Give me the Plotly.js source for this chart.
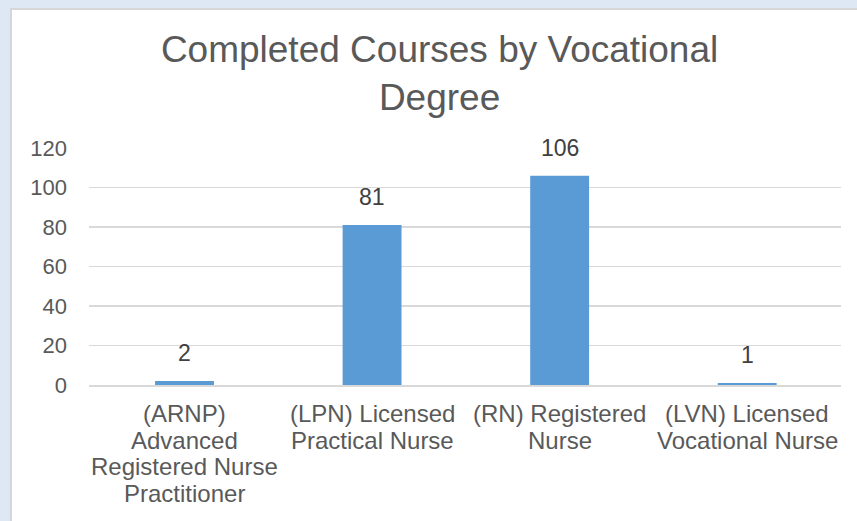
<!DOCTYPE html>
<html>
<head>
<meta charset="utf-8">
<script src="https://cdn.plot.ly/plotly-3.0.1.min.js"></script>
<style>
  html, body { margin: 0; padding: 0; width: 857px; height: 521px; overflow: hidden; background: #dee8f4; }
  #chart { position: absolute; left: 10px; top: 8px; width: 845px; height: 511px;
           border-left: 2px solid #d6d6d6; border-top: 2px solid #d6d6d6; background: #ffffff; }
</style>
</head>
<body>
<div id="chart"></div>
<script>
const categories = [
  "(ARNP)<br>Advanced<br>Registered Nurse<br>Practitioner",
  "(LPN) Licensed<br>Practical Nurse",
  "(RN) Registered<br>Nurse",
  "(LVN) Licensed<br>Vocational Nurse"
];
const completedCourses = [2, 81, 106, 1];
const yTickValues = [0, 20, 40, 60, 80, 100, 120];
const chartTitle = "Completed Courses by Vocational<br>Degree";

const textColor = "#595959";
const fontFamily = "'Liberation Sans', Arial, sans-serif";

const trace = {
  type: "bar",
  x: categories,
  y: completedCourses,
  marker: { color: "#5b9bd5" },
  hoverinfo: "none"
};

const valueLabels = categories.map((c, i) => ({
  x: c, y: completedCourses[i], xref: "x", yref: "y",
  text: String(completedCourses[i]), showarrow: false,
  yanchor: "bottom", yshift: 13,
  font: { family: fontFamily, size: 23, color: "#404040" }
}));

// category labels drawn line by line (tighter line spacing than Plotly's default)
const categoryLabels = [];
categories.forEach((c) => {
  c.split("<br>").forEach((line, j) => {
    categoryLabels.push({
      x: c, y: 0, xref: "x", yref: "y",
      text: line, showarrow: false,
      yanchor: "middle", yshift: -(28.5 + j * 26.7),
      font: { family: fontFamily, size: 24, color: textColor }
    });
  });
});

const layout = {
  width: 845, height: 511,
  margin: { l: 77, r: 16, t: 138, b: 136 },
  paper_bgcolor: "#ffffff",
  plot_bgcolor: "#ffffff",
  bargap: 0.686,
  showlegend: false,
  font: { family: fontFamily, color: textColor },
  title: {
    text: chartTitle,
    font: { family: fontFamily, size: 37, color: textColor },
    xref: "container", x: 0.506, xanchor: "center",
    yref: "container", y: 1 - 52 / 511, yanchor: "top"
  },
  xaxis: {
    type: "category",
    showgrid: false,
    showline: true, linecolor: "#d9d9d9", linewidth: 1.5,
    ticks: "",
    showticklabels: false,
    fixedrange: true
  },
  yaxis: {
    range: [0, 120],
    tickvals: yTickValues,
    ticktext: yTickValues.map(String),
    showgrid: true, gridcolor: "#d9d9d9", gridwidth: 1.5,
    zeroline: false, showline: false,
    ticks: "",
    ticklabelstandoff: 21,
    tickfont: { family: fontFamily, size: 22, color: textColor },
    fixedrange: true
  },
  annotations: valueLabels.concat(categoryLabels)
};

Plotly.newPlot("chart", [trace], layout, { displayModeBar: false, staticPlot: true });
</script>
</body>
</html>
